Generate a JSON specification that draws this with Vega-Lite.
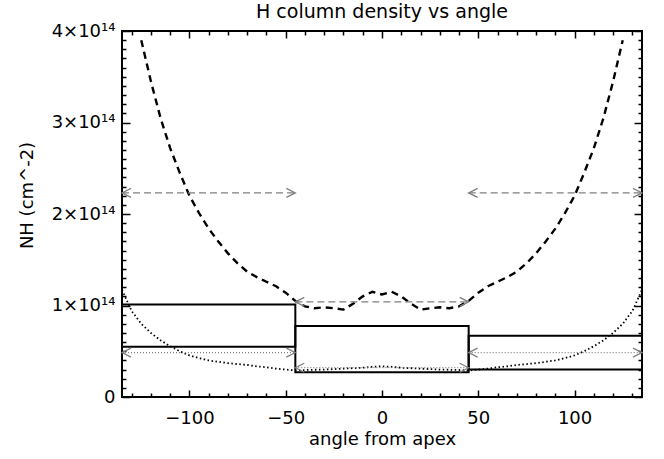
{
  "$schema": "https://vega.github.io/schema/vega-lite/v6.json",
  "width": 520,
  "height": 366,
  "autosize": {"type": "none"},
  "padding": {"left": 122, "top": 31, "right": 22, "bottom": 62},
  "background": "white",
  "title": {"text": "H column density vs angle", "font": "DejaVu Sans", "fontSize": 19, "fontWeight": "normal", "color": "black", "offset": 0},
  "config": {
    "view": {"stroke": "black", "strokeWidth": 2},
    "axis": {"grid": false, "domain": false, "labelFont": "DejaVu Sans", "titleFont": "DejaVu Sans", "labelColor": "black", "titleColor": "black", "tickColor": "black", "tickWidth": 1.5, "labelFontSize": 18, "titleFontSize": 18, "titleFontWeight": "normal", "labelFlush": false, "labelOverlap": false}
  },
  "datasets": {
    "dashed": [
      {"angle": -125, "nh": 3.90e14}, {"angle": -120, "nh": 3.45e14}, {"angle": -115, "nh": 3.05e14}, {"angle": -110, "nh": 2.72e14},
      {"angle": -105, "nh": 2.45e14}, {"angle": -100, "nh": 2.20e14}, {"angle": -95, "nh": 2.01e14}, {"angle": -90, "nh": 1.84e14},
      {"angle": -85, "nh": 1.70e14}, {"angle": -80, "nh": 1.57e14}, {"angle": -75, "nh": 1.46e14}, {"angle": -70, "nh": 1.37e14},
      {"angle": -65, "nh": 1.31e14}, {"angle": -60, "nh": 1.26e14}, {"angle": -55, "nh": 1.21e14}, {"angle": -50, "nh": 1.14e14},
      {"angle": -45, "nh": 1.05e14}, {"angle": -40, "nh": 0.99e14}, {"angle": -35, "nh": 0.97e14}, {"angle": -30, "nh": 0.98e14},
      {"angle": -25, "nh": 0.97e14}, {"angle": -20, "nh": 0.955e14}, {"angle": -15, "nh": 1.02e14}, {"angle": -10, "nh": 1.10e14},
      {"angle": -5, "nh": 1.15e14}, {"angle": 0, "nh": 1.12e14}, {"angle": 5, "nh": 1.15e14}, {"angle": 10, "nh": 1.10e14},
      {"angle": 15, "nh": 1.02e14}, {"angle": 20, "nh": 0.955e14}, {"angle": 25, "nh": 0.97e14}, {"angle": 30, "nh": 0.98e14},
      {"angle": 35, "nh": 0.97e14}, {"angle": 40, "nh": 0.99e14}, {"angle": 45, "nh": 1.05e14}, {"angle": 50, "nh": 1.14e14},
      {"angle": 55, "nh": 1.21e14}, {"angle": 60, "nh": 1.26e14}, {"angle": 65, "nh": 1.31e14}, {"angle": 70, "nh": 1.37e14},
      {"angle": 75, "nh": 1.46e14}, {"angle": 80, "nh": 1.57e14}, {"angle": 85, "nh": 1.70e14}, {"angle": 90, "nh": 1.84e14},
      {"angle": 95, "nh": 2.01e14}, {"angle": 100, "nh": 2.20e14}, {"angle": 105, "nh": 2.45e14}, {"angle": 110, "nh": 2.72e14},
      {"angle": 115, "nh": 3.05e14}, {"angle": 120, "nh": 3.45e14}, {"angle": 125, "nh": 3.90e14}
    ],
    "dotted": [
      {"angle": -135, "nh": 1.17e14}, {"angle": -130, "nh": 0.94e14}, {"angle": -125, "nh": 0.80e14}, {"angle": -120, "nh": 0.70e14},
      {"angle": -115, "nh": 0.62e14}, {"angle": -110, "nh": 0.555e14}, {"angle": -105, "nh": 0.50e14}, {"angle": -100, "nh": 0.455e14},
      {"angle": -95, "nh": 0.425e14}, {"angle": -90, "nh": 0.40e14}, {"angle": -85, "nh": 0.385e14}, {"angle": -80, "nh": 0.37e14},
      {"angle": -75, "nh": 0.36e14}, {"angle": -70, "nh": 0.35e14}, {"angle": -65, "nh": 0.335e14}, {"angle": -60, "nh": 0.325e14},
      {"angle": -55, "nh": 0.31e14}, {"angle": -50, "nh": 0.30e14}, {"angle": -45, "nh": 0.29e14}, {"angle": -40, "nh": 0.295e14},
      {"angle": -30, "nh": 0.30e14}, {"angle": -20, "nh": 0.31e14}, {"angle": -10, "nh": 0.32e14}, {"angle": -5, "nh": 0.33e14},
      {"angle": 0, "nh": 0.335e14}, {"angle": 5, "nh": 0.33e14}, {"angle": 10, "nh": 0.32e14}, {"angle": 20, "nh": 0.31e14},
      {"angle": 30, "nh": 0.30e14}, {"angle": 40, "nh": 0.295e14}, {"angle": 45, "nh": 0.29e14}, {"angle": 50, "nh": 0.30e14},
      {"angle": 55, "nh": 0.31e14}, {"angle": 60, "nh": 0.325e14}, {"angle": 65, "nh": 0.335e14}, {"angle": 70, "nh": 0.35e14},
      {"angle": 75, "nh": 0.36e14}, {"angle": 80, "nh": 0.37e14}, {"angle": 85, "nh": 0.385e14}, {"angle": 90, "nh": 0.40e14},
      {"angle": 95, "nh": 0.425e14}, {"angle": 100, "nh": 0.455e14}, {"angle": 105, "nh": 0.50e14}, {"angle": 110, "nh": 0.555e14},
      {"angle": 115, "nh": 0.62e14}, {"angle": 120, "nh": 0.70e14}, {"angle": 125, "nh": 0.80e14}, {"angle": 130, "nh": 0.94e14},
      {"angle": 135, "nh": 1.17e14}
    ],
    "boxes": [
      {"a1": -135, "a2": -45, "lo": 0.55e14, "hi": 1.01e14},
      {"a1": -45, "a2": 45, "lo": 0.27e14, "hi": 0.775e14},
      {"a1": 45, "a2": 135, "lo": 0.30e14, "hi": 0.67e14}
    ],
    "arrows": [
      {"a1": -135, "a2": -45, "nh": 2.23e14, "style": "dashed"},
      {"a1": 45, "a2": 135, "nh": 2.23e14, "style": "dashed"},
      {"a1": -45, "a2": 45, "nh": 1.04e14, "style": "dashed"},
      {"a1": -135, "a2": -45, "nh": 0.485e14, "style": "dotted"},
      {"a1": -45, "a2": 45, "nh": 0.32e14, "style": "dotted"},
      {"a1": 45, "a2": 135, "nh": 0.485e14, "style": "dotted"}
    ]
  },
  "resolve": {"axis": {"x": "independent", "y": "independent"}},
  "layer": [
    {
      "data": {"name": "dashed"},
      "mark": {"type": "line", "stroke": "black", "strokeWidth": 2.4, "strokeDash": [7, 5], "clip": true},
      "encoding": {
        "x": {"field": "angle", "type": "quantitative", "scale": {"domain": [-135, 135], "nice": false, "zero": false},
          "axis": {"orient": "bottom", "values": [-100, -50, 0, 50, 100], "ticks": false, "labelPadding": 12, "format": "d", "title": "angle from apex", "titlePadding": 3}},
        "y": {"field": "nh", "type": "quantitative", "scale": {"domain": [0, 4e14], "nice": false, "zero": true},
          "axis": {"orient": "left", "values": [0, 1e14, 2e14, 3e14, 4e14], "ticks": false, "labelPadding": 7, "labelExpr": "datum.value == 0 ? '0' : format(datum.value / 1e14, 'd') + '×10¹⁴'", "title": "NH (cm^-2)", "titlePadding": 15, "titleY": 164}}
      }
    },
    {
      "data": {"name": "dotted"},
      "mark": {"type": "line", "stroke": "black", "strokeWidth": 1.8, "strokeDash": [1.5, 2.5], "clip": true},
      "encoding": {
        "x": {"field": "angle", "type": "quantitative", "scale": {"domain": [-135, 135], "nice": false, "zero": false},
          "axis": {"orient": "bottom", "values": [-100, -50, 0, 50, 100], "labels": false, "tickSize": -7, "title": null}},
        "y": {"field": "nh", "type": "quantitative", "scale": {"domain": [0, 4e14], "nice": false, "zero": true},
          "axis": {"orient": "left", "values": [0, 1e14, 2e14, 3e14, 4e14], "labels": false, "tickSize": -8, "title": null}}
      }
    },
    {
      "data": {"name": "boxes"},
      "mark": {"type": "rect", "filled": false, "stroke": "black", "strokeWidth": 2, "clip": true},
      "encoding": {
        "x": {"field": "a1", "type": "quantitative", "scale": {"domain": [-135, 135], "nice": false, "zero": false},
          "axis": {"orient": "bottom", "values": [-130, -120, -110, -90, -80, -70, -60, -40, -30, -20, -10, 10, 20, 30, 40, 60, 70, 80, 90, 110, 120, 130], "labels": false, "tickSize": -4, "title": null}},
        "x2": {"field": "a2"},
        "y": {"field": "lo", "type": "quantitative", "scale": {"domain": [0, 4e14], "nice": false, "zero": true},
          "axis": {"orient": "left", "values": [1e13, 2e13, 3e13, 4e13, 5e13, 6e13, 7e13, 8e13, 9e13, 1.1e14, 1.2e14, 1.3e14, 1.4e14, 1.5e14, 1.6e14, 1.7e14, 1.8e14, 1.9e14, 2.1e14, 2.2e14, 2.3e14, 2.4e14, 2.5e14, 2.6e14, 2.7e14, 2.8e14, 2.9e14, 3.1e14, 3.2e14, 3.3e14, 3.4e14, 3.5e14, 3.6e14, 3.7e14, 3.8e14, 3.9e14], "labels": false, "tickSize": -4, "title": null}},
        "y2": {"field": "hi"}
      }
    },
    {
      "data": {"name": "arrows"},
      "mark": {"type": "rule", "color": "#7f7f7f", "strokeWidth": 1.3},
      "encoding": {
        "x": {"field": "a1", "type": "quantitative", "scale": {"domain": [-135, 135], "nice": false, "zero": false},
          "axis": {"orient": "top", "values": [-100, -50, 0, 50, 100], "labels": false, "tickSize": -7, "title": null}},
        "x2": {"field": "a2"},
        "y": {"field": "nh", "type": "quantitative", "scale": {"domain": [0, 4e14], "nice": false, "zero": true},
          "axis": {"orient": "right", "values": [0, 1e14, 2e14, 3e14, 4e14], "labels": false, "tickSize": -8, "title": null}},
        "strokeDash": {"field": "style", "type": "nominal", "scale": {"domain": ["dashed", "dotted"], "range": [[7, 4], [1, 2]]}, "legend": null}
      }
    },
    {
      "data": {"name": "arrows"},
      "mark": {"type": "point", "shape": "M2,-1L0,0L2,1", "filled": false, "stroke": "#7f7f7f", "strokeWidth": 1.3, "size": 81, "opacity": 1},
      "encoding": {
        "x": {"field": "a1", "type": "quantitative", "scale": {"domain": [-135, 135], "nice": false, "zero": false},
          "axis": {"orient": "top", "values": [-130, -120, -110, -90, -80, -70, -60, -40, -30, -20, -10, 10, 20, 30, 40, 60, 70, 80, 90, 110, 120, 130], "labels": false, "tickSize": -4, "title": null}},
        "y": {"field": "nh", "type": "quantitative", "scale": {"domain": [0, 4e14], "nice": false, "zero": true},
          "axis": {"orient": "right", "values": [1e13, 2e13, 3e13, 4e13, 5e13, 6e13, 7e13, 8e13, 9e13, 1.1e14, 1.2e14, 1.3e14, 1.4e14, 1.5e14, 1.6e14, 1.7e14, 1.8e14, 1.9e14, 2.1e14, 2.2e14, 2.3e14, 2.4e14, 2.5e14, 2.6e14, 2.7e14, 2.8e14, 2.9e14, 3.1e14, 3.2e14, 3.3e14, 3.4e14, 3.5e14, 3.6e14, 3.7e14, 3.8e14, 3.9e14], "labels": false, "tickSize": -4, "title": null}}
      }
    },
    {
      "data": {"name": "arrows"},
      "mark": {"type": "point", "shape": "M-2,-1L0,0L-2,1", "filled": false, "stroke": "#7f7f7f", "strokeWidth": 1.3, "size": 81, "opacity": 1},
      "encoding": {
        "x": {"field": "a2", "type": "quantitative", "scale": {"domain": [-135, 135], "nice": false, "zero": false}, "axis": null},
        "y": {"field": "nh", "type": "quantitative", "scale": {"domain": [0, 4e14], "nice": false, "zero": true}, "axis": null}
      }
    }
  ]
}
